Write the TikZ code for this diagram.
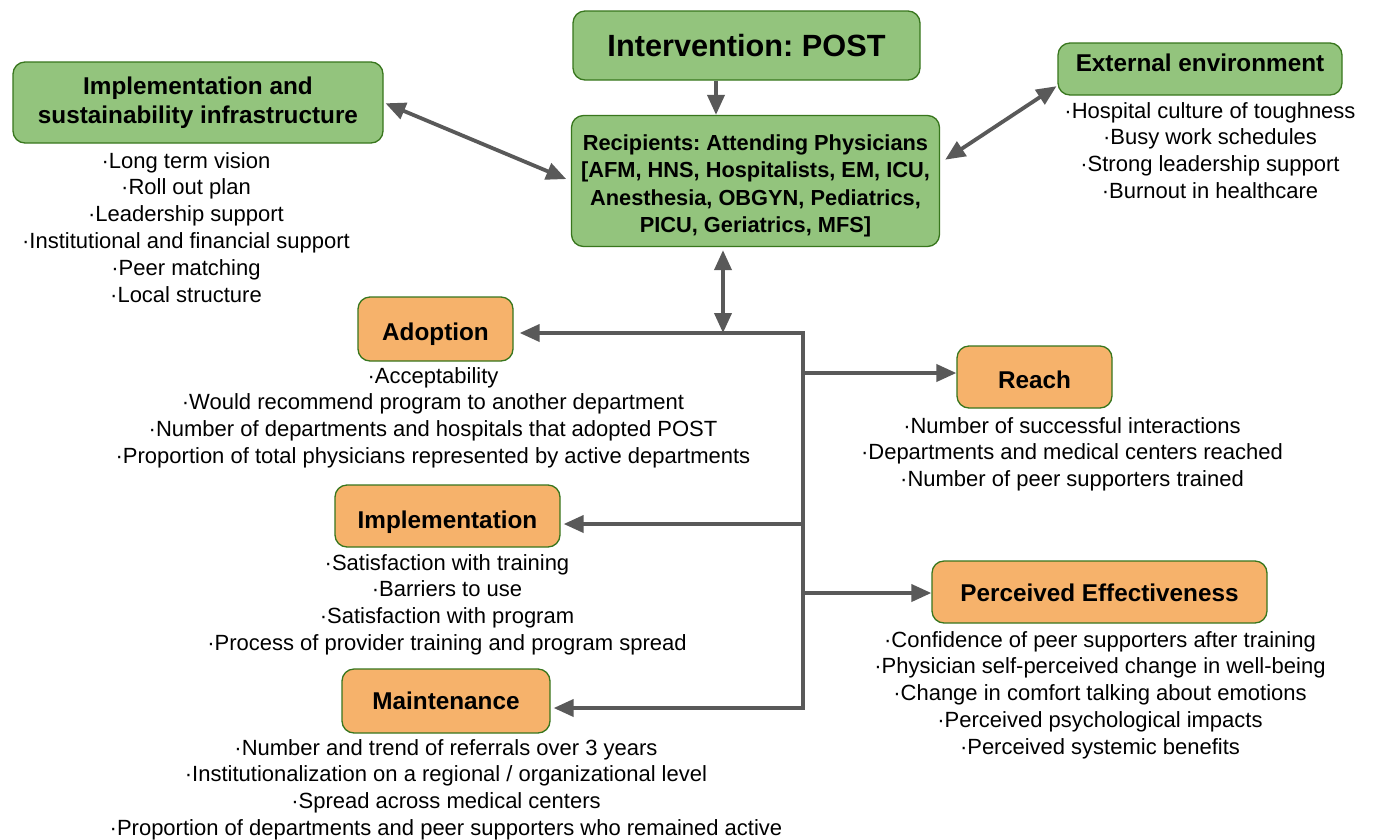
\documentclass[tikz,border=0pt]{standalone}
\usepackage{fontspec}
\setmainfont{Liberation Sans}
\frenchspacing
\usetikzlibrary{arrows.meta,calc}
\definecolor{gfill}{HTML}{93C47D}
\definecolor{gdraw}{HTML}{38761D}
\definecolor{ofill}{HTML}{F6B26B}
\definecolor{arrc}{HTML}{595959}
\begin{document}
\begin{tikzpicture}[x=1pt,y=-1pt,
  gbox/.style={draw=gdraw, fill=gfill, line width=1.3pt, rounded corners=12pt,
    font=\bfseries\fontsize{24.3}{29}\selectfont, align=center, inner sep=0pt},
  obox/.style={gbox, fill=ofill},
  btxt/.style={font=\bfseries\fontsize{21.8}{27.3}\selectfont, align=center, inner sep=0pt},
  bl/.style={font=\fontsize{22.0}{26.8}\selectfont, align=center, inner sep=0pt, anchor=north},
  conn/.style={draw=arrc, line width=3.8pt},
  arr/.style={conn, -{Triangle[length=20pt,width=17pt]}},
  darr/.style={conn, {Triangle[length=20pt,width=17pt]}-{Triangle[length=20pt,width=17pt]}}
]
\useasboundingbox (0,0) rectangle (1374,839);
\fill[white] (0,0) rectangle (1374,839);

% green boxes
\node[gbox, minimum width=347pt, minimum height=69pt, font=\bfseries\fontsize{30.7}{36}\selectfont] (interv) at (746.5,45.5) {Intervention: POST};
\node[gbox, minimum width=368pt, minimum height=131pt] (recip) at (755.5,181) {};
\node[btxt] (recipT) at ($(recip.center)+(0,5)$) {Recipients: Attending Physicians\\{[AFM, HNS, Hospitalists, EM, ICU,}\\Anesthesia, OBGYN, Pediatrics,\\PICU, Geriatrics, MFS]};
\node[gbox, minimum width=370pt, minimum height=81pt] (infra) at (198,102.5) {Implementation and\\sustainability infrastructure};
\node[gbox, minimum width=284pt, minimum height=52pt, text height=17.7pt, text depth=12.3pt] (ext) at (1200,69) {External environment};

% orange boxes
\node[obox, minimum width=155pt, minimum height=64pt, text height=28.5pt, text depth=5.1pt] (adopt) at (435.5,329) {Adoption};
\node[obox, minimum width=155pt, minimum height=62pt, text height=28.5pt, text depth=5.1pt] (reach) at (1034.5,377) {Reach};
\node[obox, minimum width=225pt, minimum height=62pt, text height=30.5pt, text depth=5.1pt] (impl) at (447.5,516) {Implementation};
\node[obox, minimum width=335pt, minimum height=62pt, text height=24.5pt, text depth=5.1pt] (pe) at (1099.5,592) {Perceived Effectiveness};
\node[obox, minimum width=208pt, minimum height=64pt] (maint) at (446,701) {Maintenance};

% bullet lists
\node[bl] (infraL) at (186,152) {·Long term vision\\·Roll out plan\\·Leadership support\\·Institutional and financial support\\·Peer matching\\·Local structure};
\node[bl] (extL) at (1210,102) {·Hospital culture of toughness\\·Busy work schedules\\·Strong leadership support\\·Burnout in healthcare};
\node[bl] (adoptL) at (433,367) {·Acceptability\\·Would recommend program to another department\\·Number of departments and hospitals that adopted POST\\·Proportion of total physicians represented by active departments};
\node[bl] (reachL) at (1072,417) {·Number of successful interactions\\·Departments and medical centers reached\\·Number of peer supporters trained};
\node[bl] (implL) at (447,554) {·Satisfaction with training\\·Barriers to use\\·Satisfaction with program\\·Process of provider training and program spread};
\node[bl] (peL) at (1100,631) {·Confidence of peer supporters after training\\·Physician self-perceived change in well-being\\·Change in comfort talking about emotions\\·Perceived psychological impacts\\·Perceived systemic benefits};
\node[bl] (maintL) at (446,739) {·Number and trend of referrals over 3 years\\·Institutionalization on a regional / organizational level\\·Spread across medical centers\\·Proportion of departments and peer supporters who remained active};

% connector coordinates
\coordinate (ax) at (716,0);
\coordinate (jx) at (723,333);
\coordinate (top) at (803,333);
\coordinate (bot) at (803,708);
\coordinate (yr) at (803,373);
\coordinate (yi) at (803,524);
\coordinate (yp) at (803,593);

% connectors
\draw[arr] (interv.south -| ax) -- (recip.north -| ax);
\draw[darr, shorten <=2pt, shorten >=5pt] (infra.east) -- (recip.west);
\draw[darr, shorten <=6pt, shorten >=1pt] ($(recip.east)+(0,-18)$) -- ($(ext.south west)+(0,-10)$);
\draw[darr, shorten <=3pt] (recip.south -| jx) -- (jx);
\draw[conn, line cap=rect] (bot) -- (top);
\draw[arr, shorten >=6pt] (top) -- (adopt.east |- top);
\draw[arr] (yr) -- (reach.west |- yr);
\draw[arr, shorten >=3pt] (yi) -- (impl.east |- yi);
\draw[arr] (yp) -- (pe.west |- yp);
\draw[arr, shorten >=3pt] (bot) -- (maint.east |- bot);
\end{tikzpicture}
\end{document}
